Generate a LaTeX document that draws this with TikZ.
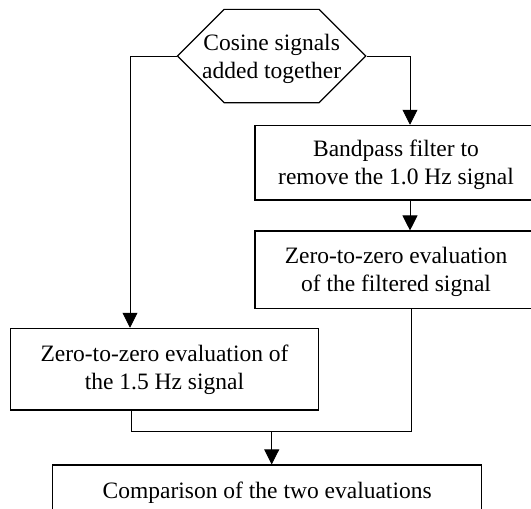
\documentclass[tikz,border=0pt]{standalone}
\usepackage{fontspec}
\setmainfont{Liberation Serif}
\usepackage{tikz}
\usetikzlibrary{arrows.meta, shapes.symbols}
\tikzset{box/.style={black,draw=black,rectangle,line width=1.2pt,align=center,inner sep=0pt}}
\tikzset{hexa/.style={draw=black,signal,signal to=west and east,signal pointer angle=90,line width=1.2pt,align=center,inner ysep=0pt,inner xsep=-22pt}}
\tikzset{arr/.style={-{Triangle[width=15pt,length=15pt]}, line width=0.9pt}}
\tikzset{wire/.style={line width=0.9pt}}

\begin{document}
\begin{tikzpicture}[x=1pt, y=-1pt, font=\fontsize{23.5}{28}\selectfont]
    \useasboundingbox (0,0) rectangle (531,509);

    \node[hexa, minimum height=93.3pt, text depth=-3.1pt] (sum) at (271.7, 56) {Cosine signals\\added together};

    \node[box, minimum width=282pt, minimum height=74.7pt, text depth=-2.3pt] (bpf) at (396, 162.7) {Bandpass filter to\\remove the 1.0 Hz signal};
    \node[box, minimum width=282pt, minimum height=77.3pt, text depth=0.3pt] (zzf) at (396, 269.7) {Zero-to-zero evaluation\\of the filtered signal};

    \node[box, minimum width=307.6pt, minimum height=81.7pt, text depth=4.7pt] (zzs) at (164.5, 369.2) {Zero-to-zero evaluation of\\the 1.5 Hz signal};

    \node[box, minimum width=429pt, minimum height=55pt] (cmp) at (267.2, 492.5) {Comparison of the two evaluations};

    \coordinate (lt) at (130, 56);
    \coordinate (jn) at (271.7, 431.7);

    \draw[arr] (sum.west) -- (lt) -- (lt |- zzs.north);
    \draw[arr] (sum.east) -| ([xshift=14pt]bpf.north);
    \draw[arr] ([xshift=14pt]bpf.south) -- ([xshift=14pt]zzf.north);

    \draw[wire] ([xshift=-33pt]zzs.south) |- (jn) -| ([xshift=15.7pt]zzf.south);
    \draw[arr] (jn) -- (jn |- cmp.north);
\end{tikzpicture}
\end{document}
